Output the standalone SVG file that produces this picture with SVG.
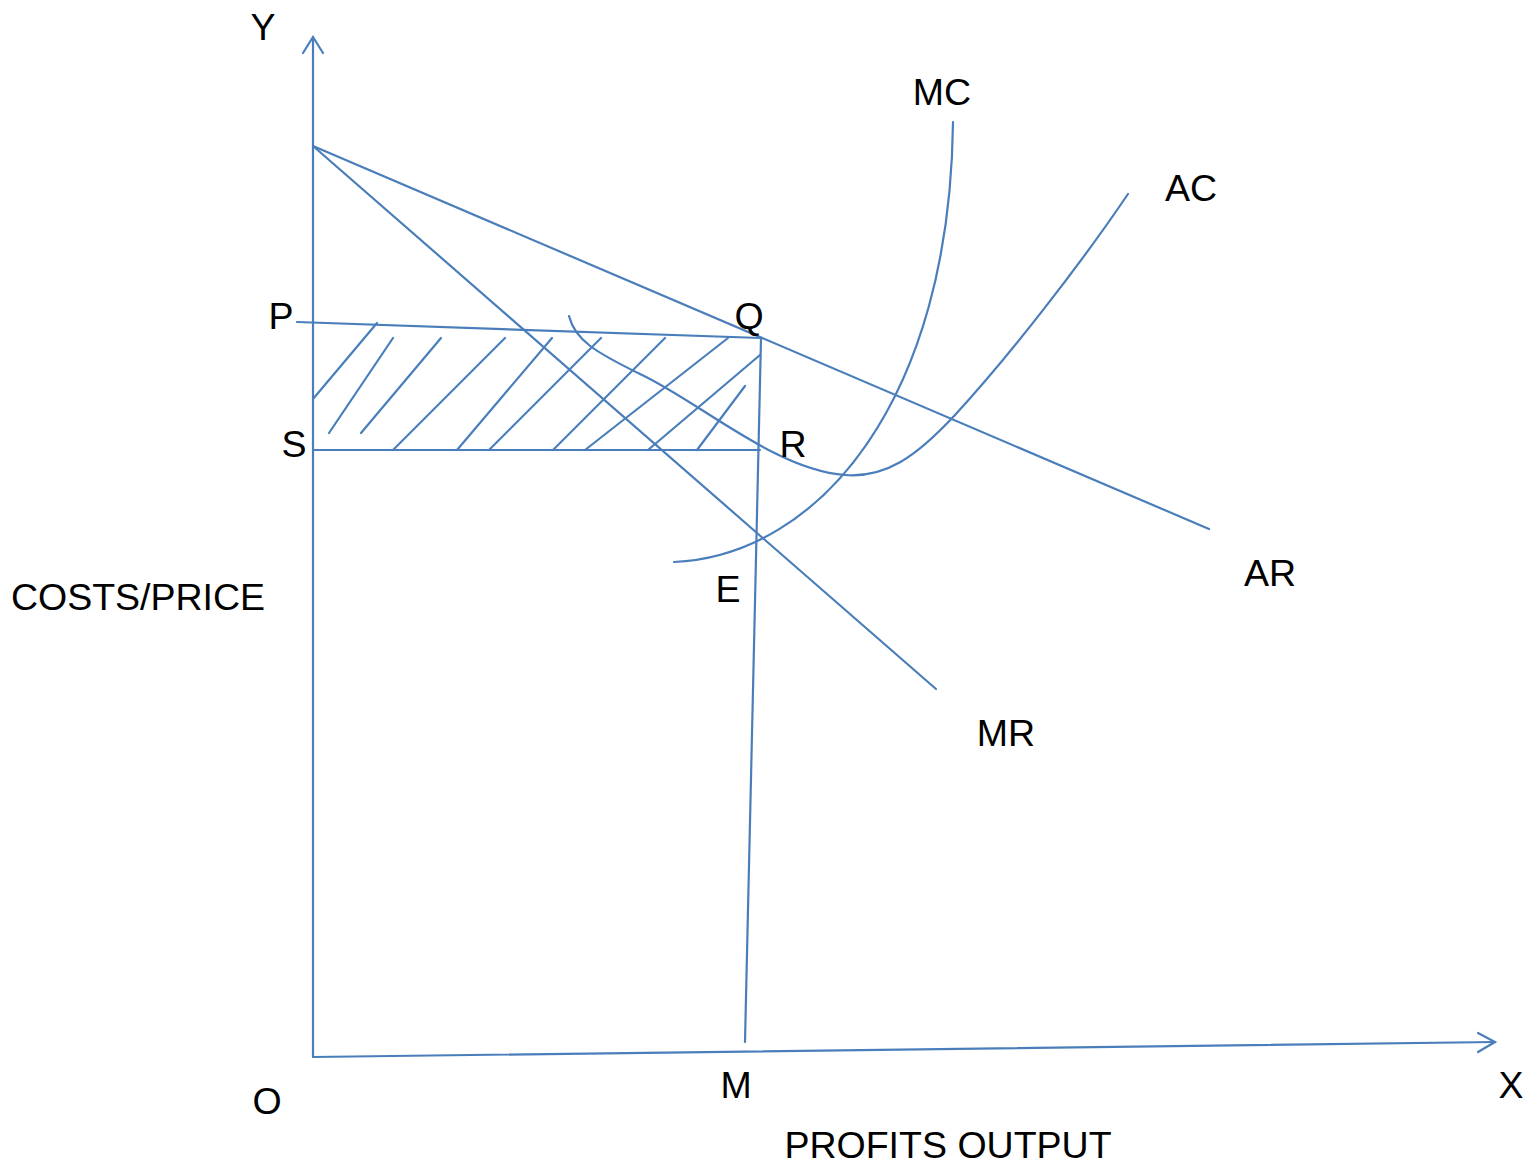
<svg xmlns="http://www.w3.org/2000/svg" width="1525" height="1165" viewBox="0 0 1525 1165">
<style>
.ln{stroke:#4a7ebb;stroke-width:2.2;fill:none;stroke-linecap:round}
.t{font-family:"Liberation Sans",Arial,sans-serif;font-size:37.5px;fill:#000;text-anchor:middle}
</style>
<rect width="1525" height="1165" fill="#fff"/>
<g id="axes">
<line class="ln" x1="313" y1="1057" x2="313" y2="37"/>
<polyline class="ln" points="303,53 313,37 323,53"/>
<line class="ln" x1="313" y1="1057" x2="1495" y2="1042"/>
<polyline class="ln" points="1478,1033 1495,1042 1478,1052"/>
</g>
<g id="connectors">
<line class="ln" x1="313" y1="146" x2="1209" y2="529"/>
<line class="ln" x1="313" y1="146" x2="936" y2="689"/>
<line class="ln" x1="297" y1="322" x2="761" y2="338"/>
<line class="ln" x1="313" y1="450" x2="760" y2="450"/>
<line class="ln" x1="761" y1="338" x2="745" y2="1042"/>
<path class="ln" d="M674,562 C820,555 950,400 953,122"/>
<path class="ln" d="M569,316 C575,340 595,352 640,374 C700,402 775,470 845,475 C885,478 915,458 955,415 C1010,355 1080,265 1128,194"/>
</g>
<g id="hatch">
<line class="ln" x1="313" y1="399" x2="377" y2="323"/>
<line class="ln" x1="329" y1="433" x2="393" y2="338"/>
<line class="ln" x1="361" y1="433" x2="441" y2="338"/>
<line class="ln" x1="393" y1="450" x2="505" y2="338"/>
<line class="ln" x1="457" y1="450" x2="552" y2="338"/>
<line class="ln" x1="489" y1="450" x2="601" y2="338"/>
<line class="ln" x1="553" y1="450" x2="665" y2="338"/>
<line class="ln" x1="585" y1="450" x2="728" y2="338"/>
<line class="ln" x1="648" y1="450" x2="760" y2="355"/>
<line class="ln" x1="697" y1="450" x2="745" y2="386"/>
</g>
<g id="labels">
<text class="t" x="263" y="40">Y</text>
<text class="t" x="942" y="105">MC</text>
<text class="t" x="1191" y="201">AC</text>
<text class="t" x="281" y="329">P</text>
<text class="t" x="749" y="329">Q</text>
<text class="t" x="294" y="457">S</text>
<text class="t" x="793" y="457">R</text>
<text class="t" x="728" y="602">E</text>
<text class="t" x="1270" y="586">AR</text>
<text class="t" x="1006" y="746">MR</text>
<text class="t" x="267" y="1114">O</text>
<text class="t" x="736" y="1098">M</text>
<text class="t" x="1511" y="1098">X</text>
<text class="t" x="138" y="610">COSTS/PRICE</text>
<text class="t" x="948" y="1158">PROFITS OUTPUT</text>
</g>
</svg>
